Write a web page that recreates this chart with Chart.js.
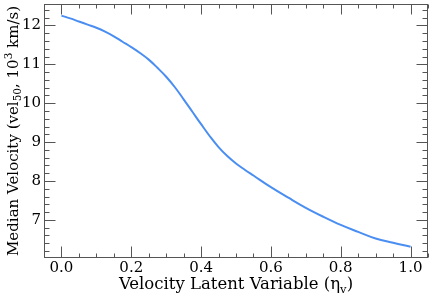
<!DOCTYPE html>
<html><head><meta charset="utf-8">
<script src="https://cdn.jsdelivr.net/npm/chart.js@4/dist/chart.umd.min.js"></script>
<style>html,body{margin:0;padding:0;background:#fff}#wrap{width:432px;height:297px}</style>
</head><body><div id="wrap"><canvas id="c" width="432" height="297"></canvas></div>
<script>
const latentX   = [0, 0.025, 0.05, 0.075, 0.1, 0.125, 0.15, 0.175, 0.2, 0.225, 0.25, 0.275, 0.3, 0.325, 0.35, 0.375, 0.4, 0.425, 0.45, 0.475, 0.5, 0.525, 0.55, 0.6, 0.65, 0.7, 0.75, 0.8, 0.85, 0.9, 0.95, 1.0];
const medianVel = [12.25, 12.18, 12.10, 12.02, 11.94, 11.84, 11.72, 11.58, 11.44, 11.29, 11.12, 10.91, 10.68, 10.41, 10.10, 9.78, 9.46, 9.15, 8.87, 8.64, 8.45, 8.29, 8.14, 7.84, 7.57, 7.31, 7.08, 6.87, 6.69, 6.52, 6.41, 6.31];
const xTickLabels = [0.0, 0.2, 0.4, 0.6, 0.8, 1.0];
const yTickLabels = [7, 8, 9, 10, 11, 12];
const xMinorTicks = [-0.05, 0.05, 0.1, 0.15, 0.25, 0.3, 0.35, 0.45, 0.5, 0.55, 0.65, 0.7, 0.75, 0.85, 0.9, 0.95, 1.05];
const yMinorTicks = [6.2, 6.4, 6.6, 6.8, 7.2, 7.4, 7.6, 7.8, 8.2, 8.4, 8.6, 8.8, 9.2, 9.4, 9.6, 9.8, 10.2, 10.4, 10.6, 10.8, 11.2, 11.4, 11.6, 11.8, 12.2, 12.4];
const xTitleParts = [['Velocity Latent Variable (\u03B7', 0], ['v', -1], [')', 0]];
const yTitleParts = [['Median Velocity (vel', 0], ['50', -1], [', 10', 0], ['3', 1], [' km/s)', 0]];

const FONT = "'DejaVu Serif', serif";
const AX = '#555555';

function drawRich(ctx, parts, size) {
  const seg = parts.map(([t, k]) => {
    const s = k === 0 ? size : size * 0.7;
    ctx.font = s + 'px ' + FONT;
    return {t, k, s, w: ctx.measureText(t).width};
  });
  const total = seg.reduce((a, b) => a + b.w, 0);
  let x = -total / 2;
  seg.forEach(g => {
    ctx.font = g.s + 'px ' + FONT;
    const dy = g.k === -1 ? size * 0.22 : (g.k === 1 ? -size * 0.42 : 0);
    ctx.fillText(g.t, x, dy);
    x += g.w;
  });
}

const frameTicks = {
  id: 'frameTicks',
  afterDatasetsDraw(chart) {
    const {ctx, chartArea: a, scales: {x, y}} = chart;
    ctx.save();
    ctx.strokeStyle = AX; ctx.lineWidth = 1;
    const line = (x1, y1, x2, y2) => { ctx.beginPath(); ctx.moveTo(x1, y1); ctx.lineTo(x2, y2); ctx.stroke(); };
    const L = Math.round(a.left) + 0.5, R = Math.round(a.right) - 0.5;
    const T = Math.round(a.top) + 0.5, B = Math.round(a.bottom) - 0.5;
    ctx.strokeRect(L, T, R - L, B - T);
    xTickLabels.forEach(v => { const p = Math.round(x.getPixelForValue(v)) + 0.5; line(p, B, p, B - 11); line(p, T, p, T + 10); });
    xMinorTicks.forEach(v => { const p = Math.round(x.getPixelForValue(v)) + 0.5; line(p, B, p, B - 4); line(p, T, p, T + 4); });
    yTickLabels.forEach(v => { const p = Math.round(y.getPixelForValue(v)) + 0.5; line(L, p, L + 11, p); line(R, p, R - 11, p); });
    yMinorTicks.forEach(v => { const p = Math.round(y.getPixelForValue(v)) + 0.5; line(L, p, L + 5, p); line(R, p, R - 5, p); });
    ctx.fillStyle = '#000';
    ctx.textBaseline = 'alphabetic';
    ctx.textAlign = 'left';
    ctx.save();
    ctx.translate((a.left + a.right) / 2, 289);
    drawRich(ctx, xTitleParts, 16.5);
    ctx.restore();
    ctx.save();
    ctx.translate(18, (a.top + a.bottom) / 2);
    ctx.rotate(-Math.PI / 2);
    drawRich(ctx, yTitleParts, 15);
    ctx.restore();
    ctx.restore();
  }
};

new Chart(document.getElementById('c'), {
  type: 'line',
  data: {
    datasets: [{
      data: latentX.map((v, i) => ({x: v, y: medianVel[i]})),
      borderColor: '#4a8ef2',
      borderWidth: 2,
      pointRadius: 0,
      tension: 0.4,
      fill: false
    }]
  },
  options: {
    responsive: false,
    animation: false,
    layout: {padding: {left: 0, right: 4, top: 4, bottom: 0}},
    plugins: {legend: {display: false}, tooltip: {enabled: false}},
    scales: {
      x: {
        type: 'linear', min: -0.05, max: 1.05,
        grid: {display: false, drawTicks: false},
        border: {display: false},
        afterBuildTicks: s => { s.ticks = xTickLabels.map(v => ({value: v})); },
        afterFit: s => { s.height = 39; s.paddingLeft = 0; s.paddingRight = 0; },
        ticks: {color: '#000', font: {family: FONT, size: 15}, padding: 1, maxRotation: 0,
                callback: v => Number(v).toFixed(1)},
        title: {display: false}
      },
      y: {
        type: 'linear', min: 6.02, max: 12.55,
        grid: {display: false, drawTicks: false},
        border: {display: false},
        afterBuildTicks: s => { s.ticks = yTickLabels.map(v => ({value: v})); },
        afterFit: s => { s.width = 44; s.paddingTop = 0; s.paddingBottom = 0; },
        ticks: {color: '#000', font: {family: FONT, size: 15}, padding: 3,
                callback: v => String(v)},
        title: {display: false}
      }
    }
  },
  plugins: [frameTicks]
});
</script>
</body></html>
